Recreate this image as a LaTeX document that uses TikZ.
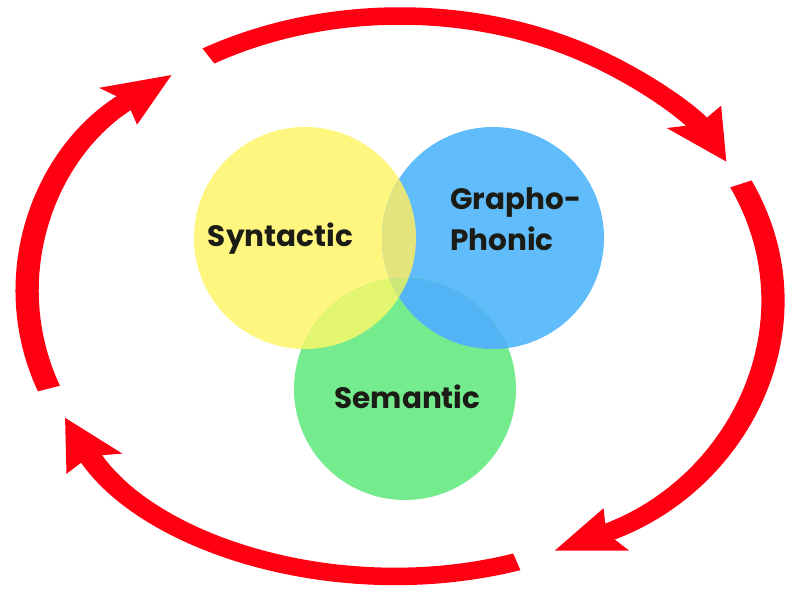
\documentclass[tikz,border=0pt]{standalone}
\usepackage{fontspec}
\setmainfont{Poppins}
\usetikzlibrary{arrows.meta}
\definecolor{ringred}{RGB}{255,0,18}
\definecolor{cyel}{RGB}{255,246,128}
\definecolor{cblue}{RGB}{96,188,250}
\definecolor{cgreen}{RGB}{116,236,142}
\definecolor{cyb}{RGB}{227,229,124}
\definecolor{cyg}{RGB}{228,246,112}
\definecolor{cbg}{RGB}{82,180,244}
\definecolor{cybg}{RGB}{205,232,118}
\definecolor{txt}{RGB}{28,28,22}
\tikzset{
  disc/.style={circle, minimum size=222pt, inner sep=0pt, draw=none},
  lbl/.style={font=\bfseries\fontsize{29.5}{34}\selectfont, text=txt, inner sep=0pt},
  ringarc/.style={draw=ringred, line width=17.5pt,
    -{Stealth[length=50pt, width=44pt, inset=7pt]}},
}
\begin{document}
\begin{tikzpicture}[x=1pt,y=1pt]
\useasboundingbox[fill=white] (0,0) rectangle (800,603);
% circles
\node[disc, fill=cyel]   (syn) at (305,365) {};
\node[disc, fill=cblue]  (gra) at (493,365) {};
\node[disc, fill=cgreen] (sem) at (405,214) {};
% overlaps
\begin{scope}
  \clip (305,365) circle (111);
  \fill[cyb] (493,365) circle (111);
  \fill[cyg] (405,214) circle (111);
\end{scope}
\begin{scope}
  \clip (493,365) circle (111);
  \fill[cbg] (405,214) circle (111);
\end{scope}
\begin{scope}
  \clip (305,365) circle (111);
  \clip (493,365) circle (111);
  \fill[cybg] (405,214) circle (111);
\end{scope}
% labels
\node[lbl, anchor=base] (tsyn) at (280.5,356) {Syntactic};
\node[lbl, anchor=base west] (tgra) at (450,393) {Grapho-};
\node[lbl, anchor=base west] (tpho) at (450,352) {Phonic};
\node[lbl, anchor=base] (tsem) at (407.5,195) {Semantic};
% ring of arrows
\begin{scope}[transform canvas={shift={(400,307)}, xscale=1.3286}]
  \draw[ringarc] (199.3:280) arc[start angle=199.3, end angle=127.8, radius=280];
  \draw[ringarc] (121.0:280) arc[start angle=121.0, end angle=28.6, radius=280];
  \draw[ringarc] (23.6:280) arc[start angle=23.6, end angle=-65.5, radius=280];
  \draw[ringarc] (-71.7:280) arc[start angle=-71.7, end angle=-154.3, radius=280];
\end{scope}
\end{tikzpicture}
\end{document}
